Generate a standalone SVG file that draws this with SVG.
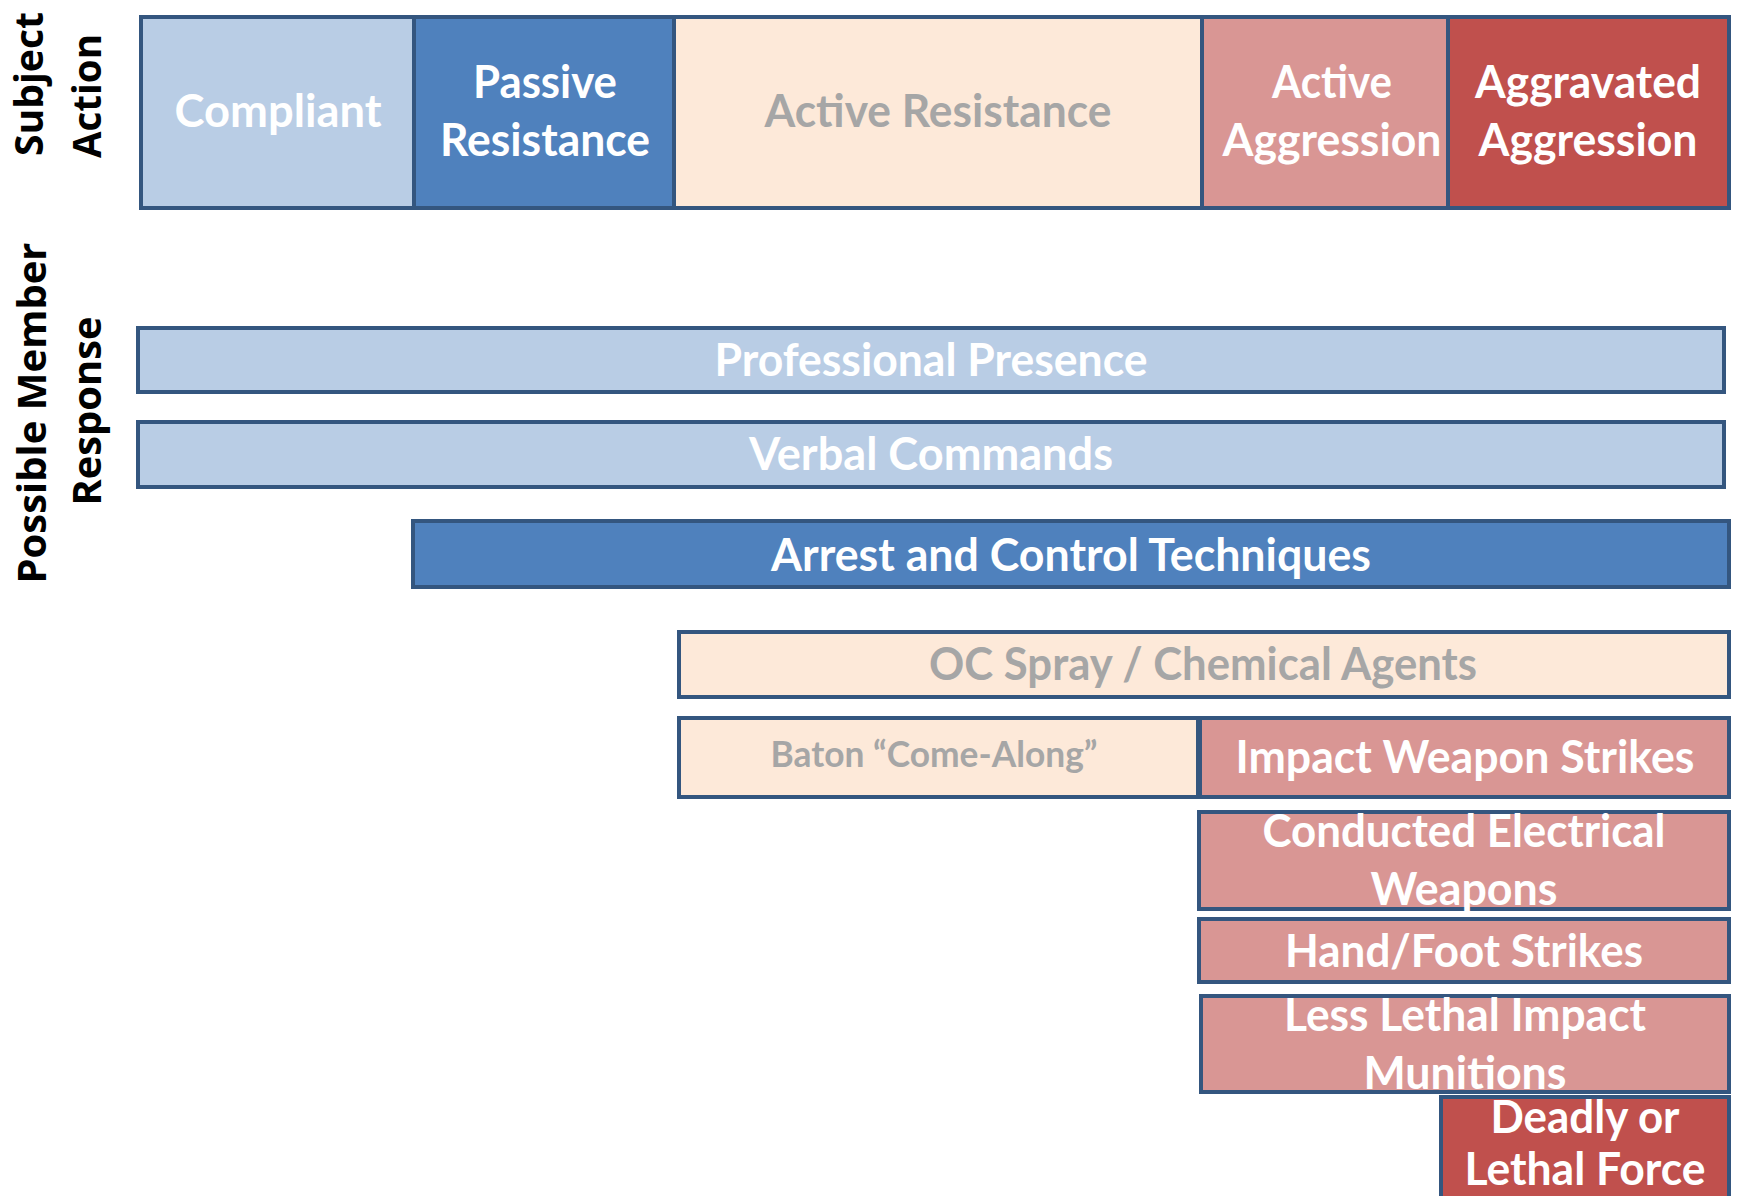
<svg xmlns="http://www.w3.org/2000/svg" width="1742" height="1196" viewBox="0 0 1742 1196">
<style>
.box{stroke:#34567F;stroke-width:4}
.lb{fill:#B9CDE5}.mb{fill:#4F81BD}.pe{fill:#FDE9D9}.pk{fill:#D99694}.rd{fill:#C0504D}
.t{font-family:Lato,"Open Sans","Liberation Sans",sans-serif;font-weight:700;font-size:46px;text-anchor:middle}
.w{fill:#FFFFFF}.g{fill:#A6A6A6}
.ax{font-family:"Open Sans","DejaVu Sans",sans-serif;font-weight:700;font-size:40px;text-anchor:middle;fill:#000}
</style>
<rect width="1742" height="1196" fill="#FFFFFF"/>
<g id="axis-labels">
<text class="ax" transform="translate(43,84) rotate(-90)" textLength="144" lengthAdjust="spacingAndGlyphs">Subject</text>
<text class="ax" transform="translate(101,96) rotate(-90)" textLength="124" lengthAdjust="spacingAndGlyphs">Action</text>
<text class="ax" transform="translate(46,413) rotate(-90)" textLength="341" lengthAdjust="spacingAndGlyphs">Possible Member</text>
<text class="ax" transform="translate(101,411) rotate(-90)" textLength="189" lengthAdjust="spacingAndGlyphs">Response</text>
</g>
<g id="subject-action">
<g id="compliant"><rect class="box lb" x="141" y="17" width="273" height="191"/><text class="t w" x="278" y="127" textLength="207" lengthAdjust="spacingAndGlyphs">Compliant</text></g>
<g id="passive-resistance"><rect class="box mb" x="414" y="17" width="260" height="191"/><text class="t w" x="545" y="98" textLength="144" lengthAdjust="spacingAndGlyphs">Passive</text><text class="t w" x="545" y="156" textLength="210" lengthAdjust="spacingAndGlyphs">Resistance</text></g>
<g id="active-resistance"><rect class="box pe" x="674" y="17" width="528" height="191"/><text class="t g" x="938" y="127" textLength="347" lengthAdjust="spacingAndGlyphs">Active Resistance</text></g>
<g id="active-aggression"><rect class="box pk" x="1202" y="17" width="246" height="191"/><text class="t w" x="1332" y="98" textLength="120" lengthAdjust="spacingAndGlyphs">Active</text><text class="t w" x="1332" y="156" textLength="219" lengthAdjust="spacingAndGlyphs">Aggression</text></g>
<g id="aggravated-aggression"><rect class="box rd" x="1448" y="17" width="281" height="191"/><text class="t w" x="1588" y="98" textLength="226" lengthAdjust="spacingAndGlyphs">Aggravated</text><text class="t w" x="1588" y="156" textLength="219" lengthAdjust="spacingAndGlyphs">Aggression</text></g>
</g>
<g id="responses">
<g id="professional-presence"><rect class="box lb" x="138" y="328" width="1586" height="64"/><text class="t w" x="931" y="376" textLength="433" lengthAdjust="spacingAndGlyphs">Professional Presence</text></g>
<g id="verbal-commands"><rect class="box lb" x="138" y="422" width="1586" height="65"/><text class="t w" x="931" y="470" textLength="364" lengthAdjust="spacingAndGlyphs">Verbal Commands</text></g>
<g id="arrest-control"><rect class="box mb" x="413" y="521" width="1316" height="66"/><text class="t w" x="1071" y="571" textLength="600" lengthAdjust="spacingAndGlyphs">Arrest and Control Techniques</text></g>
<g id="oc-spray"><rect class="box pe" x="679" y="632" width="1050" height="65"/><text class="t g" x="1203" y="680" textLength="548" lengthAdjust="spacingAndGlyphs">OC Spray / Chemical Agents</text></g>
<g id="baton"><rect class="box pe" x="679" y="718" width="519" height="79"/><text class="t g" x="934" y="767" style="font-size:36px" textLength="327" lengthAdjust="spacingAndGlyphs">Baton “Come-Along”</text></g>
<g id="impact-weapon"><rect class="box pk" x="1200" y="718" width="529" height="79"/><text class="t w" x="1465" y="773" textLength="459" lengthAdjust="spacingAndGlyphs">Impact Weapon Strikes</text></g>
<g id="cew"><rect class="box pk" x="1199" y="812" width="530" height="97"/><text class="t w" x="1464" y="847" textLength="403" lengthAdjust="spacingAndGlyphs">Conducted Electrical</text><text class="t w" x="1464" y="905" textLength="187" lengthAdjust="spacingAndGlyphs">Weapons</text></g>
<g id="hand-foot"><rect class="box pk" x="1199" y="919" width="530" height="63"/><text class="t w" x="1464" y="967" textLength="358" lengthAdjust="spacingAndGlyphs">Hand/Foot Strikes</text></g>
<g id="less-lethal"><rect class="box pk" x="1201" y="996" width="528" height="96"/><text class="t w" x="1465" y="1031" textLength="362" lengthAdjust="spacingAndGlyphs">Less Lethal Impact</text><text class="t w" x="1465" y="1089" textLength="203" lengthAdjust="spacingAndGlyphs">Munitions</text></g>
<g id="deadly-force"><rect class="box rd" x="1441" y="1097" width="288" height="104"/><text class="t w" x="1585" y="1133" textLength="189" lengthAdjust="spacingAndGlyphs">Deadly or</text><text class="t w" x="1585" y="1185" textLength="241" lengthAdjust="spacingAndGlyphs">Lethal Force</text></g>
</g>
<g id="connectors"></g>
</svg>
